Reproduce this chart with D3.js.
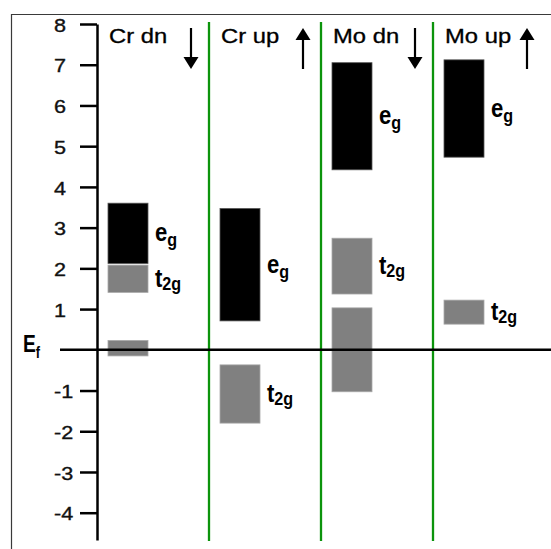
<!DOCTYPE html>
<html>
<head>
<meta charset="utf-8">
<script src="https://cdn.jsdelivr.net/npm/d3@7"></script>
<style>
  html, body { margin: 0; padding: 0; background: #fff; }
  svg { display: block; }
</style>
</head>
<body>
<svg id="chart" width="551" height="549"></svg>
<script>
// Spin channels (columns)
const categories = ["Cr dn", "Cr up", "Mo dn", "Mo up"];
const spin = ["down", "up", "down", "up"];

// e_g band edges (eV)
const egLow  = [2.12, 0.71, 4.42, 4.73];
const egHigh = [3.60, 3.47, 7.05, 7.12];

// t2g band edges (eV)
const t2gLow  = [1.41, -1.80, 1.37, 0.63];
const t2gHigh = [2.08, -0.37, 2.74, 1.22];

// unlabelled t2g states straddling the Fermi level
const t2gFermiLow  = [-0.15, null, -1.03, null];
const t2gFermiHigh = [0.23, null, 1.03, null];

// energy axis ticks
const yTicks = [8, 7, 6, 5, 4, 3, 2, 1, -1, -2, -3, -4];
const fermiLevel = 0;

const svg = d3.select("#chart");
const W = 551, H = 549;

const y = d3.scaleLinear().domain([-4.67, 8]).range([540, 24]);
const x = d3.scaleBand().domain(categories).range([97, 545]).padding(0);

const barOffset = 11, barWidth = 40;
const textFont = "'Liberation Sans', Arial, sans-serif";

// outer frame
svg.append("path")
  .attr("d", `M11.5,${H} V14.5 H${W}`)
  .attr("fill", "none").attr("stroke", "#3a3a3a").attr("stroke-width", 1.2);

// column separators
svg.append("g").selectAll("line")
  .data(categories.slice(1))
  .join("line")
  .attr("x1", d => x(d)).attr("x2", d => x(d))
  .attr("y1", 22).attr("y2", 541)
  .attr("stroke", "#0c940c").attr("stroke-width", 2.3);

// assemble bar records from the arrays
const bars = [];
categories.forEach((c, i) => {
  bars.push({ col: c, lo: egLow[i], hi: egHigh[i], kind: "eg", label: true });
  bars.push({ col: c, lo: t2gLow[i], hi: t2gHigh[i], kind: "t2g", label: true });
  if (t2gFermiLow[i] != null)
    bars.push({ col: c, lo: t2gFermiLow[i], hi: t2gFermiHigh[i], kind: "t2g", label: false });
});

svg.append("g").selectAll("rect")
  .data(bars)
  .join("rect")
  .attr("x", d => x(d.col) + barOffset)
  .attr("width", barWidth)
  .attr("y", d => y(d.hi))
  .attr("height", d => y(d.lo) - y(d.hi))
  .attr("fill", d => d.kind === "eg" ? "#000" : "#808080")
  .attr("stroke", d => d.kind === "eg" ? "#555" : "#a8a8a8")
  .attr("stroke-width", 0.8);

// Fermi level line
svg.append("line")
  .attr("x1", 60).attr("x2", W)
  .attr("y1", y(fermiLevel)).attr("y2", y(fermiLevel))
  .attr("stroke", "#000").attr("stroke-width", 2.5);

// energy axis
const axis = svg.append("g")
  .attr("transform", "translate(97,0)")
  .call(d3.axisLeft(y).tickValues(yTicks).tickSize(17).tickSizeOuter(0)
        .tickFormat(d => String(d)));
axis.select(".domain").attr("stroke", "#000").attr("stroke-width", 2.5);
axis.selectAll(".tick line").attr("stroke", "#000").attr("stroke-width", 2.5);
axis.selectAll(".tick text")
  .attr("x", 0)
  .attr("dy", "0.4em")
  .attr("text-anchor", "start")
  .attr("transform", "translate(-43,0) scale(1.2,1)")
  .attr("font-family", textFont)
  .attr("font-size", 18)
  .attr("fill", "#111")
  .attr("stroke", "#111")
  .attr("stroke-width", 0.35);

// Ef label
const ef = svg.append("text")
  .attr("transform", `translate(23,${y(fermiLevel) + 2}) scale(0.8,1)`)
  .attr("font-family", textFont).attr("font-weight", "bold")
  .attr("font-size", 24).attr("fill", "#000");
ef.append("tspan").text("E");
ef.append("tspan").attr("dy", 6).attr("font-size", 16).text("f");

// column titles
svg.append("g").selectAll("text")
  .data(categories)
  .join("text")
  .attr("transform", d => `translate(${x(d) + 12},43) scale(1.22,1)`)
  .attr("font-family", textFont)
  .attr("font-size", 19.5)
  .attr("fill", "#000")
  .attr("stroke", "#000")
  .attr("stroke-width", 0.3)
  .text(d => d);

// spin arrows
const arrows = svg.append("g");
categories.forEach((c, i) => {
  const ax = x(c) + 94;
  const top = 28, bot = 69, headH = 12, headW = 7.5;
  const g = arrows.append("g");
  if (spin[i] === "down") {
    g.append("line").attr("x1", ax).attr("x2", ax).attr("y1", top).attr("y2", bot - headH + 1)
      .attr("stroke", "#000").attr("stroke-width", 2.2);
    g.append("path").attr("d", `M${ax - headW},${bot - headH} L${ax + headW},${bot - headH} L${ax},${bot} Z`)
      .attr("fill", "#000");
  } else {
    g.append("line").attr("x1", ax).attr("x2", ax).attr("y1", top + headH - 1).attr("y2", bot)
      .attr("stroke", "#000").attr("stroke-width", 2.2);
    g.append("path").attr("d", `M${ax - headW},${top + headH} L${ax + headW},${top + headH} L${ax},${top} Z`)
      .attr("fill", "#000");
  }
});

// band labels beside each labelled bar
const labelled = bars.filter(d => d.label);
const lab = svg.append("g").selectAll("text")
  .data(labelled)
  .join("text")
  .attr("transform", d => `translate(${x(d.col) + barOffset + barWidth + 7},${(y(d.lo) + y(d.hi)) / 2 + 8}) scale(0.85,1)`)
  .attr("font-family", textFont)
  .attr("font-weight", "bold")
  .attr("font-size", 26)
  .attr("fill", "#000");
lab.append("tspan").text(d => d.kind === "eg" ? "e" : "t");
lab.append("tspan")
  .attr("dy", d => d.kind === "eg" ? 5 : 3)
  .attr("font-size", 19)
  .text(d => d.kind === "eg" ? "g" : "2g");
</script>
</body>
</html>
